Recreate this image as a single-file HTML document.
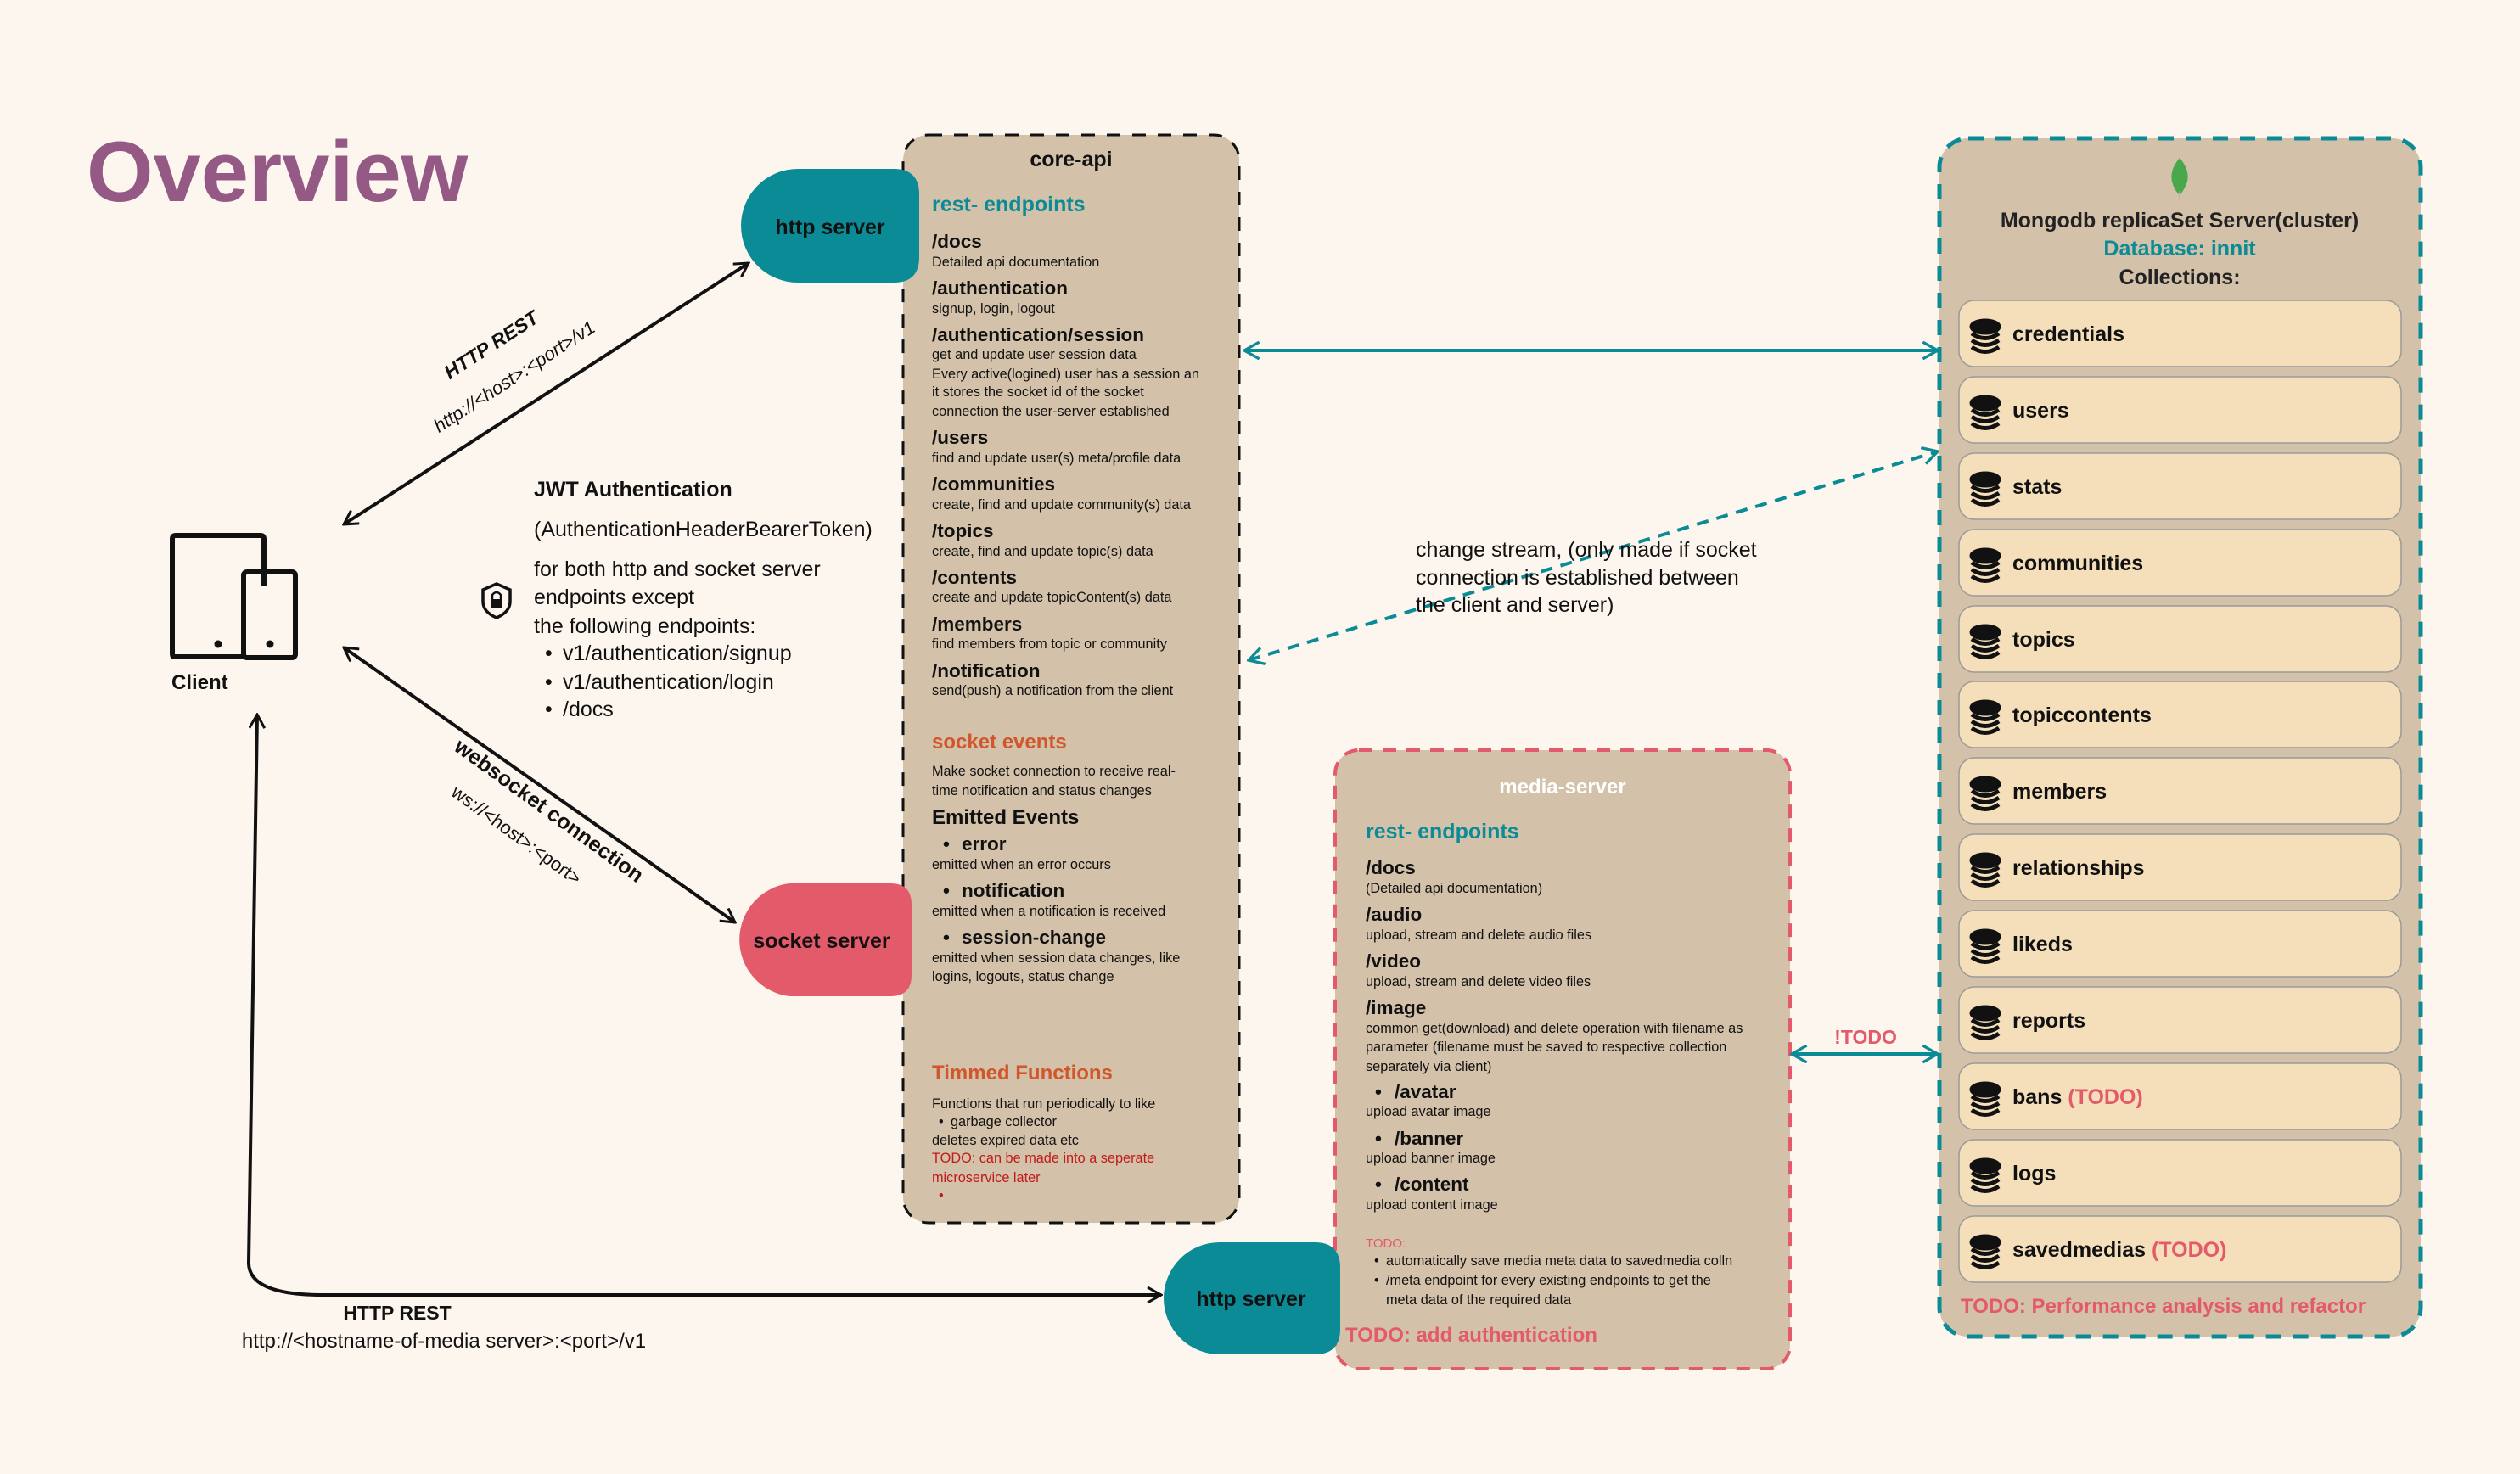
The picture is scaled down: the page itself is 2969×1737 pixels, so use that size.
<!DOCTYPE html>
<html><head><meta charset="utf-8"><style>
html,body{margin:0;padding:0;background:#fcf6ee;}
svg{display:block;}
text{font-family:"Liberation Sans",sans-serif;}
.n{font-family:"Liberation Sans Narrow","Liberation Sans",sans-serif;}
</style></head><body>
<svg width="2969" height="1737" viewBox="0 0 2969 1737" xmlns="http://www.w3.org/2000/svg">
<defs>
<marker id="ab" viewBox="0 0 20 20" refX="18" refY="10" markerWidth="20" markerHeight="20" markerUnits="userSpaceOnUse" orient="auto-start-reverse"><path d="M2,1 L18,10 L2,19" fill="none" stroke="#111" stroke-width="3"/></marker>
<marker id="at" viewBox="0 0 20 20" refX="18" refY="10" markerWidth="22" markerHeight="22" markerUnits="userSpaceOnUse" orient="auto-start-reverse"><path d="M2,1 L18,10 L2,19" fill="none" stroke="#0b8b96" stroke-width="3"/></marker>
</defs>
<rect width="2969" height="1737" fill="#fcf6ee"/>

<text x="102" y="237" font-size="101" font-weight="bold" fill="#945a85">Overview</text>

<rect x="1064" y="159" width="396" height="1282" rx="30" fill="#d3c1a9" stroke="#111" stroke-width="3" stroke-dasharray="16 14"/>
<rect x="1573" y="884" width="536" height="729" rx="28" fill="#d3c1a9" stroke="#e35a6a" stroke-width="4" stroke-dasharray="16 12"/>
<rect x="2285" y="163" width="567" height="1412" rx="34" fill="#d3c1a9" stroke="#0b8b96" stroke-width="5" stroke-dasharray="18 14"/>

<path d="M940,199 L1053,199 Q1083,199 1083,229 L1083,303 Q1083,333 1053,333 L940,333 A67,67 0 0 1 940,199 Z" fill="#0b8b96"/>
<text x="978" y="276" font-size="25" font-weight="bold" fill="#111" text-anchor="middle">http server</text>
<path d="M930,1041 L1049,1041 Q1074,1041 1074,1066 L1074,1149 Q1074,1174 1049,1174 L930,1174 A67,67 0 0 1 930,1041 Z" fill="#e35a6a"/>
<text x="968" y="1117" font-size="25" font-weight="bold" fill="#111" text-anchor="middle">socket server</text>
<path d="M1437,1464 L1549,1464 Q1579,1464 1579,1494 L1579,1566 Q1579,1596 1549,1596 L1437,1596 A66,66 0 0 1 1437,1464 Z" fill="#0b8b96"/>
<text x="1474" y="1539" font-size="25" font-weight="bold" fill="#111" text-anchor="middle">http server</text>

<path d="M288,774 L205,774 Q203,774 203,770 L203,635 Q203,631 207,631 L307,631 Q311,631 311,635 L311,690" fill="none" stroke="#111" stroke-width="6"/>
<rect x="287" y="674" width="61" height="101" rx="4" fill="none" stroke="#111" stroke-width="6"/>
<circle cx="257" cy="759" r="4.5" fill="#111"/><circle cx="318" cy="759" r="4.5" fill="#111"/>
<text x="202" y="812" font-size="24" font-weight="bold" fill="#111" class="n">Client</text>

<path d="M585,688 L601,695 L601,709 Q601,721 585,728 Q569,721 569,709 L569,695 Z" fill="none" stroke="#111" stroke-width="3.5"/>
<rect x="578" y="706" width="14" height="11" fill="#111"/><path d="M580,707 L580,701 Q585,695 590,701 L590,707" fill="none" stroke="#111" stroke-width="2.5"/>

<g class="n" font-size="25" fill="#111">
<text x="629" y="585" font-weight="bold" class="n">JWT Authentication</text>
<text x="629" y="632" class="n">(AuthenticationHeaderBearerToken)</text>
<text x="629" y="679" class="n">for both http and socket server</text>
<text x="629" y="712" class="n">endpoints except</text>
<text x="629" y="746" class="n">the following endpoints:</text>
<text x="642" y="778" class="n">•</text><text x="663" y="778" class="n">v1/authentication/signup</text>
<text x="642" y="812" class="n">•</text><text x="663" y="812" class="n">v1/authentication/login</text>
<text x="642" y="844" class="n">•</text><text x="663" y="844" class="n">/docs</text>
</g>

<line x1="405" y1="618" x2="882" y2="310" stroke="#111" stroke-width="4" marker-start="url(#ab)" marker-end="url(#ab)"/>
<g transform="translate(583,413) rotate(-33)"><text x="0" y="0" font-size="23" font-weight="bold" font-style="italic" text-anchor="middle" fill="#111">HTTP REST</text></g>
<g transform="translate(610,450) rotate(-33)"><text x="0" y="0" font-size="22" font-style="italic" text-anchor="middle" fill="#111">http://&lt;host&gt;:&lt;port&gt;/v1</text></g>

<line x1="405" y1="763" x2="866" y2="1087" stroke="#111" stroke-width="4" marker-start="url(#ab)" marker-end="url(#ab)"/>
<g transform="translate(642,962) rotate(36)"><text x="0" y="0" font-size="25" font-weight="bold" text-anchor="middle" fill="#111">websocket connection</text></g>
<g transform="translate(604,990) rotate(36)"><text x="0" y="0" font-size="22" text-anchor="middle" fill="#111">ws://&lt;host&gt;:&lt;port&gt;</text></g>

<path d="M303,842 L293,1488 Q293,1526 380,1526 L1368,1526" fill="none" stroke="#111" stroke-width="4" marker-start="url(#ab)" marker-end="url(#ab)"/>
<text x="468" y="1555" font-size="23" font-weight="bold" text-anchor="middle" fill="#111" class="n">HTTP REST</text>
<text x="523" y="1588" font-size="24" text-anchor="middle" fill="#111" class="n">http://&lt;hostname-of-media server&gt;:&lt;port&gt;/v1</text>

<line x1="1466" y1="413" x2="2283" y2="413" stroke="#0b8b96" stroke-width="4" marker-start="url(#at)" marker-end="url(#at)"/>
<line x1="1471" y1="778" x2="2283" y2="532" stroke="#0b8b96" stroke-width="4" stroke-dasharray="14 10" marker-start="url(#at)" marker-end="url(#at)"/>
<g class="n" font-size="25" fill="#111">
<text x="1668" y="656" class="n">change stream, (only made if socket</text>
<text x="1668" y="689" class="n">connection is established between</text>
<text x="1668" y="721" class="n">the client and server)</text>
</g>
<line x1="2111" y1="1242" x2="2283" y2="1242" stroke="#0b8b96" stroke-width="4" marker-start="url(#at)" marker-end="url(#at)"/>
<text x="2198" y="1230" font-size="23" font-weight="bold" text-anchor="middle" fill="#e35a6a">!TODO</text>

<g fill="#111">
<text x="1262" y="196" font-size="25" font-weight="bold" text-anchor="middle">core-api</text>
<text x="1098" y="249" font-size="25" font-weight="bold" fill="#0b8b96">rest- endpoints</text>
<g font-size="22.5" font-weight="bold">
<text x="1098" y="292">/docs</text>
<text x="1098" y="347">/authentication</text>
<text x="1098" y="402">/authentication/session</text>
<text x="1098" y="523">/users</text>
<text x="1098" y="578">/communities</text>
<text x="1098" y="633">/topics</text>
<text x="1098" y="688">/contents</text>
<text x="1098" y="743">/members</text>
<text x="1098" y="798">/notification</text>
</g>
<g font-size="16.3">
<text x="1098" y="314">Detailed api documentation</text>
<text x="1098" y="369">signup, login, logout</text>
<text x="1098" y="423">get and update user session data</text>
<text x="1098" y="446">Every active(logined) user has a session an</text>
<text x="1098" y="467">it stores the socket id of the socket</text>
<text x="1098" y="490">connection the user-server established</text>
<text x="1098" y="545">find and update user(s) meta/profile data</text>
<text x="1098" y="600">create, find and update community(s) data</text>
<text x="1098" y="655">create, find and update topic(s) data</text>
<text x="1098" y="709">create and update topicContent(s) data</text>
<text x="1098" y="764">find members from topic or community</text>
<text x="1098" y="819">send(push) a notification from the client</text>
</g>
<text x="1098" y="882" font-size="24" font-weight="bold" fill="#d0572c">socket events</text>
<g font-size="16.3">
<text x="1098" y="914">Make socket connection to receive real-</text>
<text x="1098" y="937">time notification and status changes</text>
</g>
<text x="1098" y="971" font-size="24" font-weight="bold">Emitted Events</text>
<g font-size="22.5" font-weight="bold">
<text x="1111" y="1002">•</text><text x="1133" y="1002">error</text>
<text x="1111" y="1057">•</text><text x="1133" y="1057">notification</text>
<text x="1111" y="1112">•</text><text x="1133" y="1112">session-change</text>
</g>
<g font-size="16.3">
<text x="1098" y="1024">emitted when an error occurs</text>
<text x="1098" y="1079">emitted when a notification is received</text>
<text x="1098" y="1134">emitted when session data changes, like</text>
<text x="1098" y="1156">logins, logouts, status change</text>
</g>
<text x="1098" y="1272" font-size="24" font-weight="bold" fill="#d0572c">Timmed Functions</text>
<g font-size="16.3">
<text x="1098" y="1306">Functions that run periodically to like</text>
<text x="1106" y="1327">•</text><text x="1120" y="1327">garbage collector</text>
<text x="1098" y="1349">deletes expired data etc</text>
<text x="1098" y="1370" fill="#c21a1a">TODO: can be made into a seperate</text>
<text x="1098" y="1393" fill="#c21a1a">microservice later</text>
<text x="1106" y="1414" fill="#c21a1a">•</text>
</g>
</g>

<g fill="#111">
<text x="1841" y="935" font-size="24" font-weight="bold" fill="#fff" text-anchor="middle">media-server</text>
<text x="1609" y="988" font-size="25" font-weight="bold" fill="#0b8b96">rest- endpoints</text>
<g font-size="22.5" font-weight="bold">
<text x="1609" y="1030">/docs</text>
<text x="1609" y="1085">/audio</text>
<text x="1609" y="1140">/video</text>
<text x="1609" y="1195">/image</text>
<text x="1620" y="1294">•</text><text x="1643" y="1294">/avatar</text>
<text x="1620" y="1349">•</text><text x="1643" y="1349">/banner</text>
<text x="1620" y="1403">•</text><text x="1643" y="1403">/content</text>
</g>
<g font-size="16.3">
<text x="1609" y="1052">(Detailed api documentation)</text>
<text x="1609" y="1107">upload, stream and delete audio files</text>
<text x="1609" y="1162">upload, stream and delete video files</text>
<text x="1609" y="1217">common get(download) and delete operation with filename as</text>
<text x="1609" y="1239">parameter (filename must be saved to respective collection</text>
<text x="1609" y="1262">separately via client)</text>
<text x="1609" y="1315">upload avatar image</text>
<text x="1609" y="1370">upload banner image</text>
<text x="1609" y="1425">upload content image</text>
<text x="1609" y="1470" fill="#e35a6a" font-size="15">TODO:</text>
<text x="1619" y="1491">•</text><text x="1633" y="1491">automatically save media meta data to savedmedia colln</text>
<text x="1619" y="1514">•</text><text x="1633" y="1514">/meta endpoint for every existing endpoints to get the</text>
<text x="1633" y="1537">meta data of the required data</text>
</g>
<text x="1585" y="1581" font-size="24" font-weight="bold" fill="#e35a6a">TODO: add authentication</text>
</g>

<path d="M2568,186 Q2580,200 2577,214 Q2573,225 2568,230 Q2562,225 2559,214 Q2556,200 2568,186 Z" fill="#4aa84a"/>
<line x1="2568" y1="225" x2="2568" y2="236" stroke="#9bbf8f" stroke-width="1.5"/>
<text x="2568" y="268" font-size="25" font-weight="bold" text-anchor="middle" fill="#222">Mongodb replicaSet Server(cluster)</text>
<text x="2568" y="301" font-size="25" font-weight="bold" text-anchor="middle" fill="#0b8b96">Database: innit</text>
<text x="2568" y="335" font-size="25" font-weight="bold" text-anchor="middle" fill="#222">Collections:</text>

<g font-size="25" font-weight="bold" fill="#111">
<rect x="2308" y="354" width="521" height="78" rx="18" fill="#f5dfbb" stroke="#9a9a9a" stroke-width="1.5"/>
<rect x="2308" y="444" width="521" height="78" rx="18" fill="#f5dfbb" stroke="#9a9a9a" stroke-width="1.5"/>
<rect x="2308" y="534" width="521" height="78" rx="18" fill="#f5dfbb" stroke="#9a9a9a" stroke-width="1.5"/>
<rect x="2308" y="624" width="521" height="78" rx="18" fill="#f5dfbb" stroke="#9a9a9a" stroke-width="1.5"/>
<rect x="2308" y="714" width="521" height="78" rx="18" fill="#f5dfbb" stroke="#9a9a9a" stroke-width="1.5"/>
<rect x="2308" y="803" width="521" height="78" rx="18" fill="#f5dfbb" stroke="#9a9a9a" stroke-width="1.5"/>
<rect x="2308" y="893" width="521" height="78" rx="18" fill="#f5dfbb" stroke="#9a9a9a" stroke-width="1.5"/>
<rect x="2308" y="983" width="521" height="78" rx="18" fill="#f5dfbb" stroke="#9a9a9a" stroke-width="1.5"/>
<rect x="2308" y="1073" width="521" height="78" rx="18" fill="#f5dfbb" stroke="#9a9a9a" stroke-width="1.5"/>
<rect x="2308" y="1163" width="521" height="78" rx="18" fill="#f5dfbb" stroke="#9a9a9a" stroke-width="1.5"/>
<rect x="2308" y="1253" width="521" height="78" rx="18" fill="#f5dfbb" stroke="#9a9a9a" stroke-width="1.5"/>
<rect x="2308" y="1343" width="521" height="78" rx="18" fill="#f5dfbb" stroke="#9a9a9a" stroke-width="1.5"/>
<rect x="2308" y="1433" width="521" height="78" rx="18" fill="#f5dfbb" stroke="#9a9a9a" stroke-width="1.5"/>
<text x="2371" y="402">credentials</text>
<text x="2371" y="492">users</text>
<text x="2371" y="582">stats</text>
<text x="2371" y="672">communities</text>
<text x="2371" y="762">topics</text>
<text x="2371" y="851">topiccontents</text>
<text x="2371" y="941">members</text>
<text x="2371" y="1031">relationships</text>
<text x="2371" y="1121">likeds</text>
<text x="2371" y="1211">reports</text>
<text x="2371" y="1301">bans <tspan fill="#e35a6a">(TODO)</tspan></text>
<text x="2371" y="1391">logs</text>
<text x="2371" y="1481">savedmedias <tspan fill="#e35a6a">(TODO)</tspan></text>
</g>
<g fill="none" stroke="#111" stroke-width="5">
<g id="db"><ellipse cx="2339" cy="385" rx="16" ry="7" fill="#111"/><path d="M2323,393 Q2339,404 2355,393 M2323,401 Q2339,412 2355,401 M2323,409 Q2339,420 2355,409"/></g>
<use href="#db" y="90"/><use href="#db" y="180"/><use href="#db" y="270"/><use href="#db" y="360"/><use href="#db" y="449"/><use href="#db" y="539"/><use href="#db" y="629"/><use href="#db" y="719"/><use href="#db" y="809"/><use href="#db" y="899"/><use href="#db" y="989"/><use href="#db" y="1079"/>
</g>
<text x="2310" y="1547" font-size="24" font-weight="bold" fill="#e35a6a">TODO: Performance analysis and refactor</text>
</svg>
</body></html>
